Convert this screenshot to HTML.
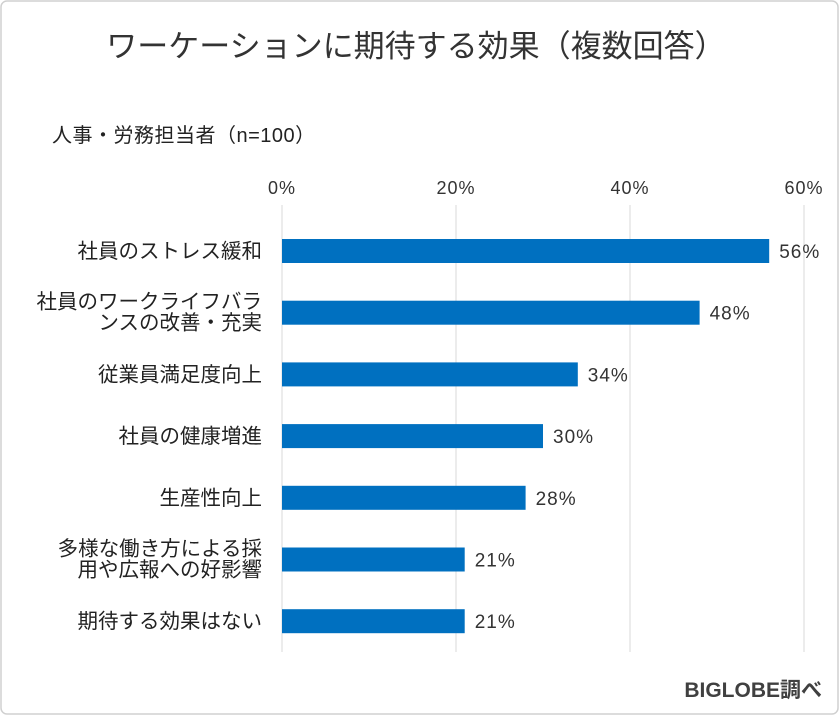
<!DOCTYPE html>
<html><head><meta charset="utf-8"><style>
body{margin:0;background:#fff;}
svg{display:block;font-family:"Liberation Sans","Noto Sans CJK JP",sans-serif;}
</style></head><body>
<svg id="c" width="840" height="716" xmlns="http://www.w3.org/2000/svg">
<rect x="1" y="1" width="837" height="713" rx="6" fill="#fff" stroke="#d0d0d0" stroke-width="1.5"/>
<text x="416" y="57" text-anchor="middle" font-size="31" fill="#333">ワーケーションに期待する効果（複数回答）</text>
<text x="52" y="142" font-size="20" fill="#222" letter-spacing="0.5">人事・労務担当者（n=100）</text>
<text x="822" y="697" text-anchor="end" font-size="21" font-weight="bold" fill="#404040">BIGLOBE調べ</text>
<g id="grid"></g><g id="bars"></g>
</svg>
<script>
const categories=[["社員のストレス緩和"],["社員のワークライフバラ","ンスの改善・充実"],["従業員満足度向上"],["社員の健康増進"],["生産性向上"],["多様な働き方による採","用や広報への好影響"],["期待する効果はない"]];
const values=[56,48,34,30,28,21,21];
const ticks=[0,20,40,60];
const tickLabels=["0%","20%","40%","60%"];
const NS="http://www.w3.org/2000/svg";
const x0=282,x1=804,max=60,yTop=205,yBot=652,rowH=61.7,firstY=251,bh=24;
const xs=v=>x0+(x1-x0)*v/max;
const ys=i=>firstY+i*rowH;
const g=document.getElementById('grid'),b=document.getElementById('bars');
function mk(t,a,p){const e=document.createElementNS(NS,t);for(const k in a)e.setAttribute(k,a[k]);p.appendChild(e);return e;}
ticks.forEach((t,i)=>{
 const l=mk('line',{x1:xs(t),x2:xs(t),y1:yTop,y2:yBot,stroke:'#d9d9d9','stroke-width':1},g);
 
 
 const tx=mk('text',{x:xs(t),y:194,'text-anchor':'middle','font-size':18,'letter-spacing':1,fill:'#333'},g);
 tx.textContent=tickLabels[i];
 
 
});
values.forEach((v,i)=>{
 const y=ys(i);
 const r=mk('rect',{x:x0,y:y-bh/2,width:xs(v)-x0,height:bh,fill:'#0070c0'},b);
 
 
 const vl=mk('text',{x:xs(v)+10,y:y+7,'font-size':19,'letter-spacing':1,fill:'#333'},b);
 vl.textContent=v+'%';
 
 
 const lines=categories[i];
 lines.forEach((s,j)=>{
  const dy=lines.length===1?7:(j===0?-4:17);
  const t=mk('text',{x:262,y:y+dy,'text-anchor':'end','font-size':20.5,fill:'#222'},b);
  t.textContent=s;
  
  
 });
});
</script>
</body></html>
